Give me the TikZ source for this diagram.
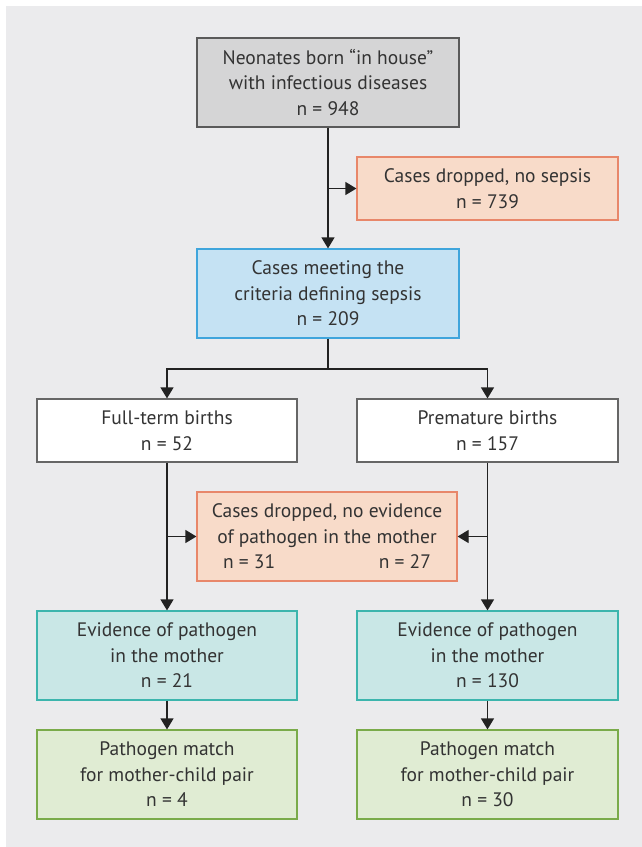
\documentclass[tikz,border=0pt]{standalone}
\usepackage{fontspec}
\setmainfont{PT Sans}
\usetikzlibrary{arrows.meta}
\definecolor{bgcol}{HTML}{EBEBED}
\definecolor{txtcol}{HTML}{333333}
\definecolor{grayfill}{HTML}{D5D5D6}
\definecolor{graydraw}{HTML}{5A5A5A}
\definecolor{orfill}{HTML}{F8DBC9}
\definecolor{ordraw}{HTML}{E8876A}
\definecolor{blfill}{HTML}{C5E2F3}
\definecolor{bldraw}{HTML}{3FA5DC}
\definecolor{tefill}{HTML}{C9E7E6}
\definecolor{tedraw}{HTML}{3CB5AD}
\definecolor{grfill}{HTML}{E0ECD3}
\definecolor{grdraw}{HTML}{7AAB4A}
\definecolor{whdraw}{HTML}{666666}
\definecolor{linecol}{HTML}{222222}
\tikzset{
  box/.style={draw, line width=1.2pt, align=center, inner sep=0pt,
    text=txtcol, font=\fontsize{19.5}{25.5}\selectfont},
  box3/.style={box, minimum height=89pt},
  box2/.style={box, minimum height=63pt},
  wide/.style={minimum width=262pt},
  conn/.style={draw=linecol, line width=1.2pt},
  arr/.style={conn, -{Triangle[length=11pt,width=13pt]}},
}
\begin{document}
\begin{tikzpicture}[x=1pt,y=-1pt]
\useasboundingbox (0,0) rectangle (642,847);
\fill[bgcol] (6,6) rectangle (642,847);

\node[box3, wide, fill=grayfill, draw=graydraw] (top) at (328,82.5)
  {Neonates born “in house”\\with infectious diseases\\n = 948};
\node[box2, minimum width=261pt, fill=orfill, draw=ordraw] (d1) at (487.5,188.5)
  {Cases dropped, no sepsis\\n = 739};
\node[box3, wide, fill=blfill, draw=bldraw] (sep) at (328,293.5)
  {Cases meeting the\\criteria defining sepsis\\n = 209};
\node[box2, minimum width=260pt, fill=white, draw=whdraw] (full) at (167,430.5)
  {Full-term births\\n = 52};
\node[box2, minimum width=261pt, fill=white, draw=whdraw] (prem) at (487.5,430.5)
  {Premature births\\n = 157};
\node[box3, minimum width=260pt, fill=orfill, draw=ordraw] (mid) at (327,536.5)
  {Cases dropped, no evidence\\of pathogen in the mother\\\makebox[208pt]{n = 31\hfill n = 27}};
\node[box3, minimum width=260pt, fill=tefill, draw=tedraw] (evl) at (167,655.5)
  {Evidence of pathogen\\in the mother\\n = 21};
\node[box3, minimum width=261pt, fill=tefill, draw=tedraw] (evr) at (487.5,655.5)
  {Evidence of pathogen\\in the mother\\n = 130};
\node[box3, minimum width=260pt, fill=grfill, draw=grdraw] (mal) at (167,774.5)
  {Pathogen match\\for mother-child pair\\n = 4};
\node[box3, minimum width=261pt, fill=grfill, draw=grdraw] (mar) at (487.5,774.5)
  {Pathogen match\\for mother-child pair\\n = 30};

\coordinate (split) at (328,369);

\draw[arr] (top.south) -- (sep.north);
\draw[arr] (top.south |- d1.west) -- (d1.west);
\draw[conn] (sep.south) -- (split);
\draw[arr] (split) -| (full.north);
\draw[arr] (split) -| (prem.north);
\draw[arr] (full.south) -- (evl.north);
\draw[arr] (prem.south) -- (evr.north);
\draw[arr] (full.south |- mid.west) -- (mid.west);
\draw[arr] (prem.south |- mid.east) -- (mid.east);
\draw[arr] (evl.south) -- (mal.north);
\draw[arr] (evr.south) -- (mar.north);
\end{tikzpicture}
\end{document}
